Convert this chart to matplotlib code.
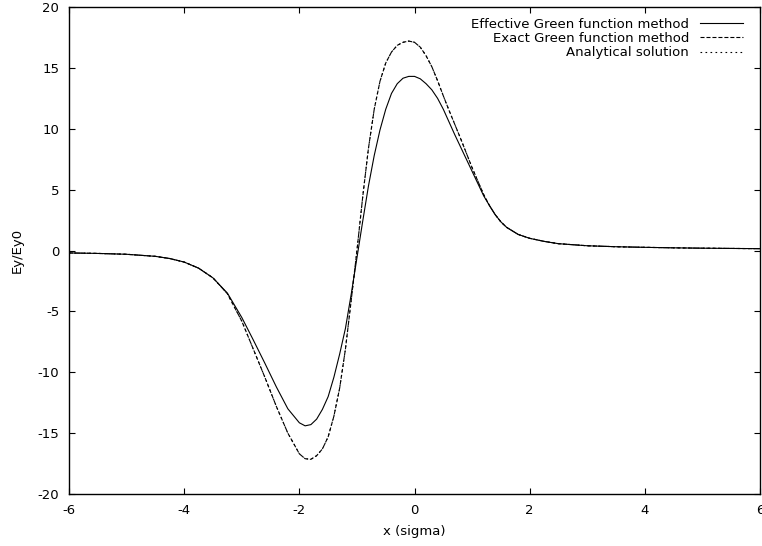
import matplotlib
matplotlib.use('Agg')
import matplotlib.pyplot as plt

# x positions (in units of sigma)
x_sigma = [-6.0, -5.5, -5.0, -4.5, -4.25, -4.0, -3.75, -3.5, -3.25, -3.0,
           -2.8, -2.6, -2.4, -2.2, -2.0, -1.9, -1.8, -1.7, -1.6, -1.5,
           -1.4, -1.3, -1.2, -1.1, -1.0, -0.9, -0.8, -0.7, -0.6, -0.5,
           -0.4, -0.3, -0.2, -0.1, 0.0, 0.1, 0.2, 0.3, 0.4, 0.5,
           0.6, 0.7, 0.8, 0.9, 1.0, 1.1, 1.2, 1.3, 1.4, 1.5,
           1.6, 1.8, 2.0, 2.25, 2.5, 3.0, 3.5, 4.0, 4.5, 5.0,
           5.5, 6.0]

# Ey/Ey0
effective = [-0.20, -0.24, -0.31, -0.48, -0.66, -0.95, -1.45, -2.25, -3.5, -5.5,
             -7.35, -9.25, -11.2, -13.0, -14.15, -14.4, -14.3, -13.85, -13.05, -12.0,
             -10.4, -8.5, -6.4, -3.6, -0.6, 2.4, 5.3, 7.8, 9.9, 11.6,
             12.9, 13.7, 14.15, 14.3, 14.3, 14.1, 13.7, 13.2, 12.5, 11.6,
             10.55, 9.5, 8.5, 7.5, 6.5, 5.5, 4.5, 3.7, 2.95, 2.35,
             1.9, 1.32, 1.0, 0.75, 0.56, 0.39, 0.31, 0.26, 0.22, 0.19,
             0.17, 0.15]

exact = [-0.20, -0.24, -0.31, -0.48, -0.66, -0.95, -1.45, -2.25, -3.55, -5.8,
         -8.1, -10.4, -12.8, -15.0, -16.7, -17.1, -17.15, -16.85, -16.3, -15.3,
         -13.6, -11.3, -8.1, -4.1, 0.0, 4.4, 8.4, 11.6, 13.9, 15.4,
         16.3, 16.85, 17.1, 17.2, 17.1, 16.7, 16.0, 15.1, 13.95, 12.7,
         11.5, 10.35, 9.2, 8.0, 6.8, 5.7, 4.6, 3.7, 2.95, 2.35,
         1.9, 1.32, 1.0, 0.75, 0.56, 0.39, 0.31, 0.26, 0.22, 0.19,
         0.17, 0.15]

# analytical solution lies on top of the exact Green function curve
analytical = exact

plt.rcParams['font.family'] = ['DejaVu Sans']
plt.rcParams['font.size'] = 9.5
plt.rcParams['lines.scale_dashes'] = False
plt.rcParams['axes.unicode_minus'] = False

fig = plt.figure(figsize=(7.62, 5.46), dpi=100)
ax = fig.add_axes([0.0906, 0.0952, 0.9068, 0.892])

ax.plot(x_sigma, effective, color='black', lw=0.8, label='Effective Green function method')
ax.plot(x_sigma, exact, color='black', lw=0.8, linestyle=(0, (2.9, 1.4)),
        label='Exact Green function method')
ax.plot(x_sigma, analytical, color='black', lw=0.8, linestyle=(0, (1.2, 2.4)),
        label='Analytical solution')

ax.set_xlim(-6, 6)
ax.set_ylim(-20, 20)
ax.set_xticks([-6, -4, -2, 0, 2, 4, 6])
ax.set_yticks([-20, -15, -10, -5, 0, 5, 10, 15, 20])
ax.tick_params(direction='in', length=4.5, width=0.8, top=True, right=True)
ax.tick_params(axis='y', pad=7)
ax.tick_params(axis='x', pad=7)
for s in ax.spines.values():
    s.set_linewidth(1.0)

ax.set_xlabel('x (sigma)', labelpad=6)
ax.set_ylabel('Ey/Ey0')
ax.yaxis.set_label_coords(-0.065, 0.5)

ax.legend(loc='upper right', bbox_to_anchor=(0.991, 1.0), frameon=False, markerfirst=False,
          handlelength=3.3, handletextpad=0.8, labelspacing=0.1,
          borderaxespad=0.5, borderpad=0.3)

plt.savefig('out.png', dpi=100)
